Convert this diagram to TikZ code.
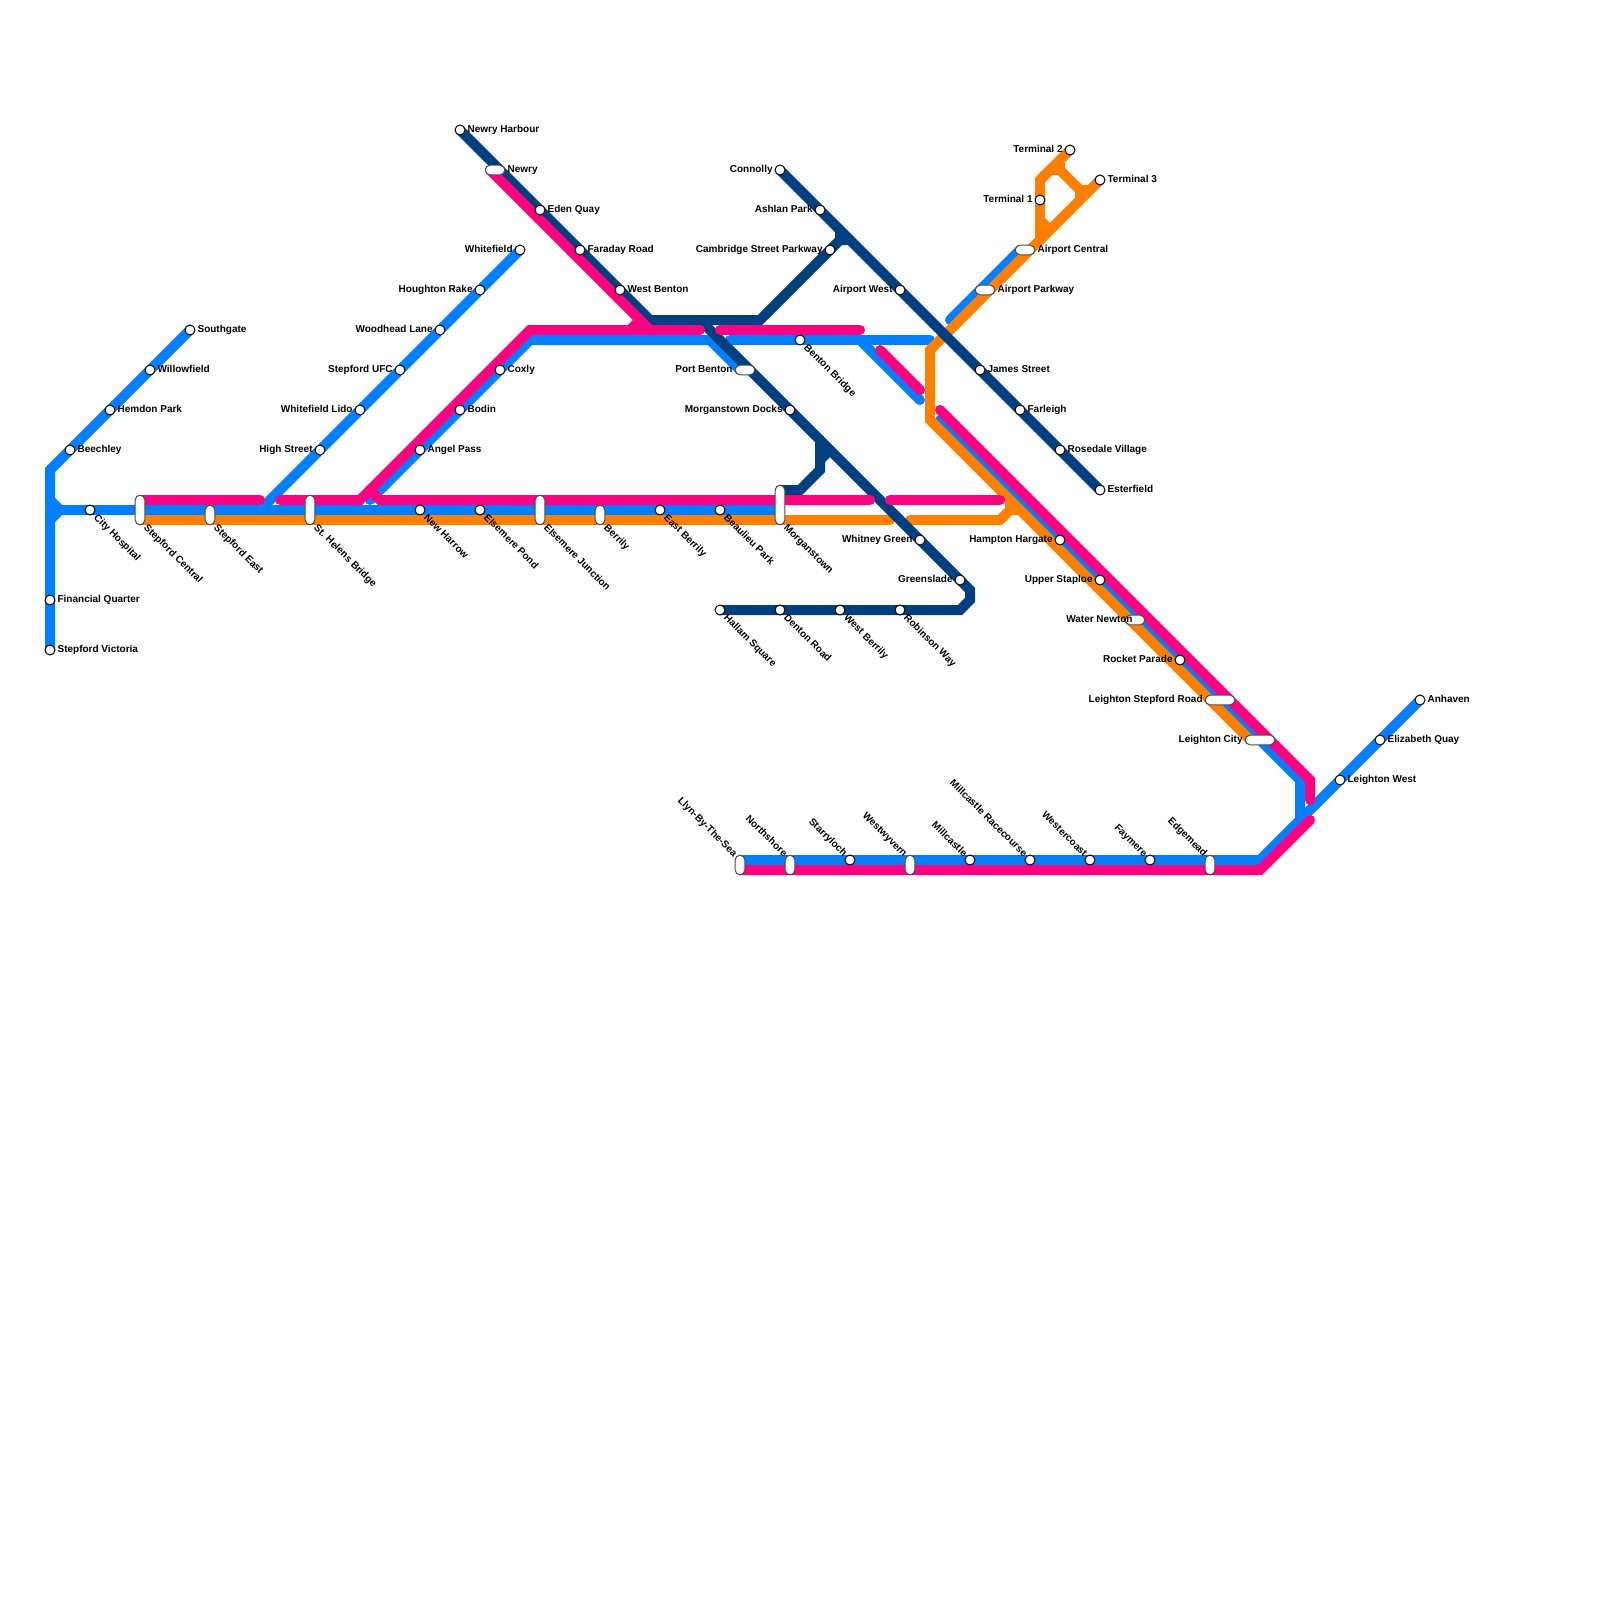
\documentclass[tikz,border=0pt]{standalone}
\usepackage{fontspec}
\setmainfont{Liberation Sans}[BoldFont={Liberation Sans Bold}]
\definecolor{lblue}{HTML}{0080FF}
\definecolor{lpink}{HTML}{FF0080}
\definecolor{lorange}{HTML}{FF8000}
\definecolor{lnavy}{HTML}{004080}
\tikzset{
  route/.style={line width=5pt,line cap=round,line join=miter},
  blueroute/.style={route,draw=lblue},
  pinkroute/.style={route,draw=lpink},
  orangeroute/.style={route,draw=lorange},
  navyroute/.style={route,draw=lnavy},
  halt/.style={circle,draw=black,fill=white,line width=.5pt,minimum size=5pt,inner sep=0pt},
  capsule/.style={rectangle,rounded corners=2.4pt,draw=black!70,fill=white,line width=.5pt,inner sep=0pt},
  lab/.style={font=\bfseries\fontsize{5}{6}\selectfont,inner sep=0pt,text=black},
}
\newcommand{\labr}[4]{\node[lab,anchor=base west] (tr#1) at (#2+7.2,#3+2.4) {#4};}
\newcommand{\labl}[4]{\node[lab,anchor=base east] (tl#1) at (#2-7,#3+2.4) {#4};}
\newcommand{\labdr}[4]{\node[lab,anchor=base west,rotate=-45] (td#1) at (#2+3.2,#3+8) {#4};}
\newcommand{\labul}[4]{\node[lab,anchor=base east,rotate=-45] (tu#1) at (#2-6.5,#3-2.5) {#4};}
\begin{document}
\begin{tikzpicture}[x=0.5pt,y=-0.5pt]
\useasboundingbox (0,0) rectangle (1600,1600);
\foreach \n/\x/\y in {
 a1/190/330,a2/50/470,a3/50/650,a4/50/500,a5/60/510,a6/50/520,a7/780/510,
 b1/520/250,b2/270/500,b3/260/510,
 c1/370/500,c2/530/340,c3/710/340,c4/740/370,c5/730/340,c6/930/340,c7/860/340,c8/920/400,
 c9/1020/250,c10/950/320,
 d1/940/420,d2/1300/780,d3/1300/820,d4/1260/860,d5/740/860,d6/1420/700,
 p1/140/500,p2/260/500,p3/280/500,p4/360/500,p5/530/330,p6/700/330,p7/720/330,p8/860/330,
 p9/370/490,p10/380/500,p11/870/500,p12/890/500,p13/1000/500,p14/490/170,p15/650/330,
 p16/630/330,p17/640/320,p18/880/350,p19/920/390,p20/940/410,p21/1310/780,p22/1310/800,
 p23/1310/820,p24/1260/870,p25/740/870,
 o1/140/520,o2/890/520,o3/910/520,o4/1000/520,o5/1010/510,o6/1020/510,o7/1010/500,
 o8/1250/740,o9/930/420,o10/930/350,o11/1100/180,o12/1040/240,o13/1040/180,o14/1050/170,
 o15/1060/170,o16/1070/150,o17/1060/160,o18/1080/190,o19/1080/200,o20/1090/190,o21/1040/220,o22/1050/230,
 n1/460/130,n2/650/320,n3/760/320,n4/840/240,n5/850/240,n6/780/170,n7/1100/490,n8/700/320,
 n9/970/590,n10/970/600,n11/960/610,n12/720/610,n13/820/440,n14/820/470,n15/800/490,n16/780/490,
 n17/820/460,n18/830/450,n19/840/230}
 {\coordinate (\n) at (\x,\y);}
% blue
\draw[blueroute] (a1)--(a2)--(a3);
\draw[blueroute] (a4)--(a5)--(a6);
\draw[blueroute] (a5)--(a7);
\draw[blueroute] (b1)--(b3);
\draw[blueroute] (c1)--(c2)--(c3)--(c4);
\draw[blueroute] (c5)--(c6);
\draw[blueroute] (c7)--(c8);
\draw[blueroute] (c9)--(c10);
\draw[blueroute] (d1)--(d2)--(d3)--(d4)--(d5);
\draw[blueroute] (d6)--(d3);
% orange
\draw[orangeroute] (o1)--(o2);
\draw[orangeroute] (o3)--(o4)--(o5)--(o6);
\draw[orangeroute] (o5)--(o7);
\draw[orangeroute] (o8)--(o9)--(o10)--(o11);
\draw[orangeroute] (o12)--(o13)--(o14)--(o15)--(o18)--(o19);
\draw[orangeroute] (o13)--(o16);
\draw[orangeroute] (o17)--(o15);
\draw[orangeroute] (o18)--(o20);
\draw[orangeroute] (o21)--(o22);
% navy
\draw[navyroute] (n1)--(n2)--(n3)--(n4)--(n5);
\draw[navyroute] (n4)--(n19);
\draw[navyroute] (n6)--(n7);
\draw[navyroute] (n8)--(n9)--(n10)--(n11)--(n12);
\draw[navyroute] (n13)--(n14)--(n15)--(n16);
\draw[navyroute] (n17)--(n18);
% pink
\draw[pinkroute] (p1)--(p2);
\draw[pinkroute] (p3)--(p4)--(p5)--(p6);
\draw[pinkroute] (p7)--(p8);
\draw[pinkroute] (p9)--(p10)--(p11);
\draw[pinkroute] (p12)--(p13);
\draw[pinkroute] (p14)--(p15);
\draw[pinkroute] (p16)--(p17);
\draw[pinkroute] (p18)--(p19);
\draw[pinkroute] (p20)--(p21)--(p22);
\draw[pinkroute] (p23)--(p24)--(p25);
% stations
\foreach \n/\x/\y in {Southgate/190/330,Willowfield/150/370,Hemdon/110/410,Beechley/70/450,Financial/50/600,Victoria/50/650,CityH/90/510,
 Whitefield/520/250,Houghton/480/290,Woodhead/440/330,StepfordUFC/400/370,Lido/360/410,HighSt/320/450,
 Angel/420/450,Bodin/460/410,Coxly/500/370,NewHarrow/420/510,ElsPond/480/510,EastB/660/510,Beaulieu/720/510,
 Harbour/460/130,Eden/540/210,Faraday/580/250,WestBenton/620/290,Connolly/780/170,Ashlan/820/210,Cambridge/830/250,
 AirWest/900/290,James/980/370,Farleigh/1020/410,Rosedale/1060/450,Esterfield/1100/490,BentonB/800/340,MDocks/790/410,
 Whitney/920/540,Greenslade/960/580,Hallam/720/610,Denton/780/610,WestBerrily/840/610,Robinson/900/610,
 T1/1040/200,T2/1070/150,T3/1100/180,Hampton/1060/540,Staploe/1100/580,Rocket/1180/660,
 Anhaven/1420/700,Elizabeth/1380/740,LeightonW/1340/780,Starry/850/860,Millc/970/860,Race/1030/860,Wester/1090/860,Fay/1150/860}
 {\node[halt] (s\n) at (\x,\y) {};}
\node[capsule,minimum width=4.8pt,minimum height=14.8pt] (sStepC) at (140,510) {};
\node[capsule,minimum width=4.8pt,minimum height=9.8pt] (sStepE) at (210,515) {};
\node[capsule,minimum width=4.8pt,minimum height=14.8pt] (sHelens) at (310,510) {};
\node[capsule,minimum width=4.8pt,minimum height=14.8pt] (sElsJ) at (540,510) {};
\node[capsule,minimum width=4.8pt,minimum height=9.8pt] (sBerrily) at (600,515) {};
\node[capsule,minimum width=4.8pt,minimum height=19.8pt] (sMorg) at (780,505) {};
\node[capsule,minimum width=4.8pt,minimum height=9.8pt] (sLlyn) at (740,865) {};
\node[capsule,minimum width=4.8pt,minimum height=9.8pt] (sNorth) at (790,865) {};
\node[capsule,minimum width=4.8pt,minimum height=9.8pt] (sWesty) at (910,865) {};
\node[capsule,minimum width=4.8pt,minimum height=9.8pt] (sEdge) at (1210,865) {};
\node[capsule,minimum height=4.8pt,minimum width=9.8pt] (sNewry) at (495,170) {};
\node[capsule,minimum height=4.8pt,minimum width=9.8pt] (sPort) at (745,370) {};
\node[capsule,minimum height=4.8pt,minimum width=9.8pt] (sACen) at (1025,250) {};
\node[capsule,minimum height=4.8pt,minimum width=9.8pt] (sAPark) at (985,290) {};
\node[capsule,minimum height=4.8pt,minimum width=9.8pt] (sWater) at (1135,620) {};
\node[capsule,minimum height=4.8pt,minimum width=14.8pt] (sLStep) at (1220,700) {};
\node[capsule,minimum height=4.8pt,minimum width=14.8pt] (sLCity) at (1260,740) {};
% labels right
\labr{a}{190}{330}{Southgate}
\labr{b}{150}{370}{Willowfield}
\labr{c}{110}{410}{Hemdon Park}
\labr{d}{70}{450}{Beechley}
\labr{e}{50}{600}{Financial Quarter}
\labr{f}{50}{650}{Stepford Victoria}
\labr{g}{420}{450}{Angel Pass}
\labr{h}{460}{410}{Bodin}
\labr{i}{500}{370}{Coxly}
\labr{j}{460}{130}{Newry Harbour}
\labr{k}{500}{170}{Newry}
\labr{l}{540}{210}{Eden Quay}
\labr{m}{580}{250}{Faraday Road}
\labr{n}{620}{290}{West Benton}
\labr{o}{1030}{250}{Airport Central}
\labr{p}{990}{290}{Airport Parkway}
\labr{q}{1100}{180}{Terminal 3}
\labr{r}{980}{370}{James Street}
\labr{s}{1020}{410}{Farleigh}
\labr{t}{1060}{450}{Rosedale Village}
\labr{u}{1100}{490}{Esterfield}
\labr{v}{1420}{700}{Anhaven}
\labr{w}{1380}{740}{Elizabeth Quay}
\labr{x}{1340}{780}{Leighton West}
% labels left
\labl{a}{520}{250}{Whitefield}
\labl{b}{480}{290}{Houghton Rake}
\labl{c}{440}{330}{Woodhead Lane}
\labl{d}{400}{370}{Stepford UFC}
\labl{e}{360}{410}{Whitefield Lido}
\labl{f}{320}{450}{High Street}
\labl{g}{740}{370}{Port Benton}
\labl{h}{790}{410}{Morganstown Docks}
\labl{i}{780}{170}{Connolly}
\labl{j}{820}{210}{Ashlan Park}
\labl{k}{830}{250}{Cambridge Street Parkway}
\labl{l}{900}{290}{Airport West}
\labl{m}{1070}{150}{Terminal 2}
\labl{n}{1040}{200}{Terminal 1}
\labl{o}{920}{540}{Whitney Green}
\labl{p}{960}{580}{Greenslade}
\labl{q}{1060}{540}{Hampton Hargate}
\labl{r}{1100}{580}{Upper Staploe}
\labl{s}{1140}{620}{Water Newton}
\labl{t}{1180}{660}{Rocket Parade}
\labl{u}{1210}{700}{Leighton Stepford Road}
\labl{v}{1250}{740}{Leighton City}
% labels rotated below right
\labdr{a}{90}{510}{City Hospital}
\labdr{b}{140}{520}{Stepford Central}
\labdr{c}{210}{520}{Stepford East}
\labdr{d}{310}{520}{St. Helens Bridge}
\labdr{e}{420}{510}{New Harrow}
\labdr{f}{480}{510}{Elsemere Pond}
\labdr{g}{540}{520}{Elsemere Junction}
\labdr{h}{600}{520}{Berrily}
\labdr{i}{660}{510}{East Berrily}
\labdr{j}{720}{510}{Beaulieu Park}
\labdr{k}{780}{520}{Morganstown}
\labdr{l}{800}{340}{Benton Bridge}
\labdr{m}{720}{610}{Hallam Square}
\labdr{n}{780}{610}{Denton Road}
\labdr{o}{840}{610}{West Berrily}
\labdr{p}{900}{610}{Robinson Way}
% labels rotated above left
\labul{a}{740}{860}{Llyn-By-The-Sea}
\labul{b}{790}{860}{Northshore}
\labul{c}{850}{860}{Starryloch}
\labul{d}{910}{860}{Westwyvern}
\labul{e}{970}{860}{Millcastle}
\labul{f}{1030}{860}{Millcastle Racecourse}
\labul{g}{1090}{860}{Westercoast}
\labul{h}{1150}{860}{Faymere}
\labul{i}{1210}{860}{Edgemead}
\end{tikzpicture}
\end{document}
